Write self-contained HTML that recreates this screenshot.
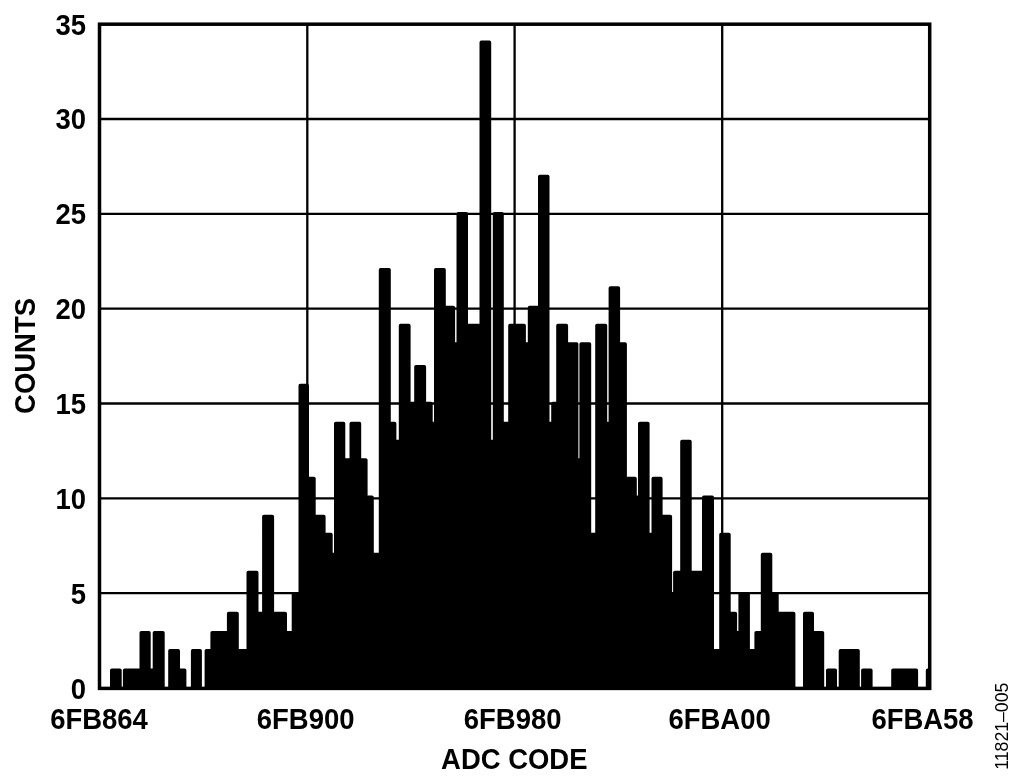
<!DOCTYPE html>
<html><head><meta charset="utf-8">
<style>
html,body{margin:0;padding:0;background:#fff;width:1024px;height:781px;overflow:hidden}
svg{display:block;will-change:transform}
text{font-family:"Liberation Sans",sans-serif;fill:#000}
.b{font-weight:bold}
</style></head><body>
<svg width="1024" height="781" viewBox="0 0 1024 781">
<g stroke="#000" stroke-width="2.3" fill="none">
<line x1="99" y1="119.0" x2="930" y2="119.0"/>
<line x1="99" y1="213.8" x2="930" y2="213.8"/>
<line x1="99" y1="308.6" x2="930" y2="308.6"/>
<line x1="99" y1="403.5" x2="930" y2="403.5"/>
<line x1="99" y1="498.3" x2="930" y2="498.3"/>
<line x1="99" y1="593.1" x2="930" y2="593.1"/>
<line x1="307.3" y1="24" x2="307.3" y2="688"/>
<line x1="514.6" y1="24" x2="514.6" y2="688"/>
<line x1="722.2" y1="24" x2="722.2" y2="688"/>
</g>
<g id="bars" fill="#000"><path id="hist" d="M100 688.0 V688.00 H110.00 V670.20 Q110.00 668.40 111.80 668.40 H119.90 Q121.70 668.40 121.70 670.20 V688.00 H122.90 V670.20 Q122.90 668.40 124.70 668.40 H139.50 V632.80 Q139.50 631.00 141.30 631.00 H148.90 Q150.70 631.00 150.70 632.80 V668.40 H152.70 V632.80 Q152.70 631.00 154.50 631.00 H162.90 Q164.70 631.00 164.70 632.80 V688.00 H168.20 V650.80 Q168.20 649.00 170.00 649.00 H178.20 Q180.00 649.00 180.00 650.80 V668.40 H184.60 Q186.40 668.40 186.40 670.20 V688.00 H190.90 V650.80 Q190.90 649.00 192.70 649.00 H200.10 Q201.90 649.00 201.90 650.80 V688.00 H204.60 V650.80 Q204.60 649.00 206.40 649.00 H210.40 V632.80 Q210.40 631.00 212.20 631.00 H226.90 V613.50 Q226.90 611.70 228.70 611.70 H237.00 Q238.80 611.70 238.80 613.50 V649.00 H246.50 V572.60 Q246.50 570.80 248.30 570.80 H256.70 Q258.50 570.80 258.50 572.60 V611.70 H262.10 V516.50 Q262.10 514.70 263.90 514.70 H272.30 Q274.10 514.70 274.10 516.50 V611.70 H285.20 Q287.00 611.70 287.00 613.50 V631.00 H291.70 V593.80 Q291.70 592.00 293.50 592.00 H298.50 V385.60 Q298.50 383.80 300.30 383.80 H307.20 Q309.00 383.80 309.00 385.60 V476.80 H313.90 Q315.70 476.80 315.70 478.60 V514.70 H323.80 Q325.60 514.70 325.60 516.50 V532.80 H330.90 Q332.70 532.80 332.70 534.60 V552.80 H334.00 V423.60 Q334.00 421.80 335.80 421.80 H343.50 Q345.30 421.80 345.30 423.60 V458.30 H349.50 V423.60 Q349.50 421.80 351.30 421.80 H359.40 Q361.20 421.80 361.20 423.60 V458.30 H365.80 Q367.60 458.30 367.60 460.10 V495.40 H372.00 Q373.80 495.40 373.80 497.20 V552.80 H378.80 V269.70 Q378.80 267.90 380.60 267.90 H389.00 Q390.80 267.90 390.80 269.70 V421.80 H394.60 Q396.40 421.80 396.40 423.60 V439.80 H398.80 V325.60 Q398.80 323.80 400.60 323.80 H408.80 Q410.60 323.80 410.60 325.60 V401.80 H414.20 V366.80 Q414.20 365.00 416.00 365.00 H424.30 Q426.10 365.00 426.10 366.80 V401.80 H430.90 Q432.70 401.80 432.70 403.60 V421.80 H434.00 V269.70 Q434.00 267.90 435.80 267.90 H444.00 Q445.80 267.90 445.80 269.70 V305.80 H453.30 Q455.10 305.80 455.10 307.60 V342.30 H456.50 V213.90 Q456.50 212.10 458.30 212.10 H466.20 Q468.00 212.10 468.00 213.90 V323.80 H479.50 V42.40 Q479.50 40.60 481.30 40.60 H489.40 Q491.20 40.60 491.20 42.40 V439.80 H492.80 V213.90 Q492.80 212.10 494.60 212.10 H502.00 Q503.80 212.10 503.80 213.90 V421.80 H508.20 V325.60 Q508.20 323.80 510.00 323.80 H524.10 Q525.90 323.80 525.90 325.60 V342.30 H527.80 V307.60 Q527.80 305.80 529.60 305.80 H538.00 V176.50 Q538.00 174.70 539.80 174.70 H547.70 Q549.50 174.70 549.50 176.50 V421.80 H551.20 V403.60 Q551.20 401.80 553.00 401.80 H556.20 V325.60 Q556.20 323.80 558.00 323.80 H566.30 Q568.10 323.80 568.10 325.60 V342.30 H576.60 Q578.40 342.30 578.40 344.10 V458.30 H579.40 V344.10 Q579.40 342.30 581.20 342.30 H589.40 Q591.20 342.30 591.20 344.10 V532.80 H595.20 V325.60 Q595.20 323.80 597.00 323.80 H605.40 Q607.20 323.80 607.20 325.60 V421.80 H608.60 V288.00 Q608.60 286.20 610.40 286.20 H618.30 Q620.10 286.20 620.10 288.00 V342.30 H625.10 Q626.90 342.30 626.90 344.10 V476.80 H635.00 Q636.80 476.80 636.80 478.60 V495.40 H638.00 V423.60 Q638.00 421.80 639.80 421.80 H647.80 Q649.60 421.80 649.60 423.60 V532.80 H651.50 V478.60 Q651.50 476.80 653.30 476.80 H660.80 Q662.60 476.80 662.60 478.60 V514.70 H670.30 Q672.10 514.70 672.10 516.50 V592.00 H673.10 V572.60 Q673.10 570.80 674.90 570.80 H680.20 V441.60 Q680.20 439.80 682.00 439.80 H689.90 Q691.70 439.80 691.70 441.60 V570.80 H702.00 V497.20 Q702.00 495.40 703.80 495.40 H712.20 Q714.00 495.40 714.00 497.20 V649.00 H719.20 V534.60 Q719.20 532.80 721.00 532.80 H728.90 Q730.70 532.80 730.70 534.60 V611.70 H735.30 Q737.10 611.70 737.10 613.50 V631.00 H738.40 V593.80 Q738.40 592.00 740.20 592.00 H748.10 Q749.90 592.00 749.90 593.80 V649.00 H754.40 V632.80 Q754.40 631.00 756.20 631.00 H760.80 V554.60 Q760.80 552.80 762.60 552.80 H770.50 Q772.30 552.80 772.30 554.60 V592.00 H776.90 Q778.70 592.00 778.70 593.80 V611.70 H793.60 Q795.40 611.70 795.40 613.50 V688.00 H803.00 V613.50 Q803.00 611.70 804.80 611.70 H812.20 Q814.00 611.70 814.00 613.50 V631.00 H822.40 Q824.20 631.00 824.20 632.80 V688.00 H826.00 V670.20 Q826.00 668.40 827.80 668.40 H835.20 Q837.00 668.40 837.00 670.20 V688.00 H838.70 V650.80 Q838.70 649.00 840.50 649.00 H858.00 Q859.80 649.00 859.80 650.80 V688.00 H861.10 V670.20 Q861.10 668.40 862.90 668.40 H870.80 Q872.60 668.40 872.60 670.20 V688.00 H891.20 V670.20 Q891.20 668.40 893.00 668.40 H916.30 Q918.10 668.40 918.10 670.20 V688.00 H925.80 V670.20 Q925.80 668.40 927.60 668.40 H927.70 Q929.50 668.40 929.50 670.20 V688.0 Z" fill="#000"/></g>
<rect x="99.5" y="24.2" width="830.2" height="664.2" stroke="#000" stroke-width="3.5" fill="none"/>
<g class="b" font-size="30" text-anchor="end">
<text transform="translate(86,34.5) scale(0.915,1)">35</text>
<text transform="translate(86,129.3) scale(0.915,1)">30</text>
<text transform="translate(86,224.2) scale(0.915,1)">25</text>
<text transform="translate(86,319.2) scale(0.915,1)">20</text>
<text transform="translate(86,414.1) scale(0.915,1)">15</text>
<text transform="translate(86,509.0) scale(0.915,1)">10</text>
<text transform="translate(86,603.9) scale(0.915,1)">5</text>
<text transform="translate(86,698.8) scale(0.915,1)">0</text>
</g>
<g class="b" font-size="30" text-anchor="middle">
<text transform="translate(99,728.5) scale(0.915,1)">6FB864</text>
<text transform="translate(305.6,728.5) scale(0.915,1)">6FB900</text>
<text transform="translate(512.6,728.5) scale(0.915,1)">6FB980</text>
<text transform="translate(719.6,728.5) scale(0.915,1)">6FBA00</text>
<text transform="translate(922.5,728.5) scale(0.915,1)">6FBA58</text>
<text transform="translate(514.3,769.2) scale(0.915,1)">ADC CODE</text>
<text transform="translate(34.5,356) rotate(-90) scale(0.915,1)">COUNTS</text>
</g>
<text font-size="18.3" text-anchor="middle" transform="translate(1007.6,726.2) rotate(-90) scale(0.965,1)">11821–005</text>
</svg>
</body></html>
